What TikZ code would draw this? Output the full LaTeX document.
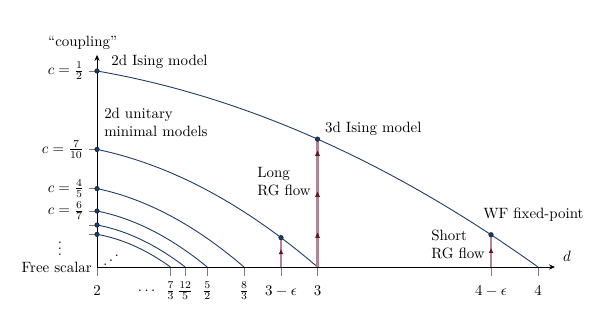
\documentclass[tikz,border=0pt]{standalone}
\usepackage{amsmath}
\usepackage{amssymb}
\usetikzlibrary{arrows.meta}
\usetikzlibrary{decorations.markings}
\definecolor{curveblue}{RGB}{30,60,105}
\definecolor{flowpink}{RGB}{176,132,144}
\definecolor{flowred}{RGB}{105,18,38}
\definecolor{tickgray}{RGB}{125,125,125}
\tikzset{
  rgcurve/.style={curveblue, line width=0.6pt},
  fp/.style={circle, fill=curveblue, draw=curveblue!60!black, inner sep=0pt, minimum size=3pt},
  axtick/.style={tickgray, line width=0.6pt},
  flowtip/.style={decoration={markings, mark=at position #1 with {\arrow[flowred]{Latex[length=3.5pt,width=3.2pt]}}}, postaction={decorate}},
  flowline/.style={flowpink, line width=1.6pt},
  axline/.style={black, line width=0.6pt, -{Stealth[length=4pt,width=3.5pt]}},
  clbl/.style={anchor=east, inner sep=1pt}
}

\begin{document}
\begin{tikzpicture}[x=147.7pt, y=262.6pt, declare function={shp(\t)=1-0.39*\t-0.61*\t*\t;}]
    \useasboundingbox (1.5601,-0.1224) rectangle (4.2630,0.6811);
    \coordinate (o) at (2,0);
    \coordinate (xend) at (4.077,0);
    \coordinate (yend) at (2,0.541);
    \coordinate (d3) at (3,0);
    \coordinate (d3e) at (2.8345,0);
    \coordinate (d4e) at (3.787,0);
    \foreach \g/\dc in {0.5/4, 0.3/3, 0.2/2.66667, 0.142857/2.5, 0.107143/2.4, 0.083333/2.33333}
    {
        \draw[axtick] (1.964,\g) -- (2,\g);
        \draw[axtick] (\dc,0) -- (\dc,-0.023);
        \draw[rgcurve] plot[domain=0:1, samples=60] ({2+\x*(\dc-2)},{\g*shp(\x)});
    }
    \draw[axtick] (2,0) -- (2,-0.023);
    \draw[axtick] (2.8345,0) -- (2.8345,-0.023);
    \draw[axtick] (3.787,0) -- (3.787,-0.023);
    \draw[axline] (o) -- (xend);
    \draw[axline] (o) -- (yend);
    \coordinate (ising3) at (3,{0.5*shp(0.5)});
    \coordinate (tri3e) at (2.8345,{0.3*shp(0.8345)});
    \coordinate (wf) at (3.787,{0.5*shp(0.8935)});
    \draw[flowline, flowtip=0.27, flowtip=0.59, flowtip=0.91] (d3) -- (ising3);
    \draw[flowline, flowtip=0.62] (d3e) -- (tri3e);
    \draw[flowline, flowtip=0.6] (d4e) -- (wf);
    \foreach \g in {0.5, 0.3, 0.2, 0.142857, 0.107143, 0.083333}
        \node[fp] at (2,\g) {};
    \node[fp] (p3) at (ising3) {};
    \node[fp] (p3e) at (tri3e) {};
    \node[fp] (pwf) at (wf) {};
    \node (coupling) at (1.935,0.571) {``coupling''};
    \node[anchor=west] (ising2lbl) at (2.041,0.523) {2d Ising model};
    \node[anchor=west, align=left] (minlbl) at (2.009,0.370) {2d unitary\\minimal models};
    \node[anchor=west] (ising3lbl) at (3.011,0.352) {3d Ising model};
    \node[anchor=west, align=left] (longlbl) at (2.703,0.219) {Long\\RG flow};
    \node[anchor=west] (wflbl) at (3.728,0.133) {WF fixed-point};
    \node[anchor=west, align=left] (shortlbl) at (3.492,0.057) {Short\\RG flow};
    \node (dlbl) at (4.132,0.028) {$d$};
    \node[clbl] (c2) at (1.948,0.5) {$c=\frac{1}{2}$};
    \node[clbl] (c10) at (1.948,0.3) {$c=\frac{7}{10}$};
    \node[clbl] (c5) at (1.948,0.2) {$c=\frac{4}{5}$};
    \node[clbl] (c7) at (1.948,0.142857) {$c=\frac{6}{7}$};
    \node[inner sep=0pt] (vdots) at (1.832,0.058) {$\vdots$};
    \node[anchor=east] (free) at (2,0) {Free scalar};
    \node[inner sep=0pt] (iddots) at (2.0635,0.028) {\reflectbox{$\ddots$}};
    \node (x2) at (2,-0.061) {$2$};
    \node (xdots) at (2.231,-0.061) {$\cdots$};
    \node (x73) at (2.33333,-0.061) {$\frac{7}{3}$};
    \node (x125) at (2.4,-0.061) {$\frac{12}{5}$};
    \node (x52) at (2.5,-0.061) {$\frac{5}{2}$};
    \node (x83) at (2.66667,-0.061) {$\frac{8}{3}$};
    \node (x3e) at (2.8345,-0.061) {$3-\epsilon$};
    \node (x3) at (3,-0.061) {$3$};
    \node (x4e) at (3.787,-0.061) {$4-\epsilon$};
    \node (x4) at (4,-0.061) {$4$};
\end{tikzpicture}
\end{document}
